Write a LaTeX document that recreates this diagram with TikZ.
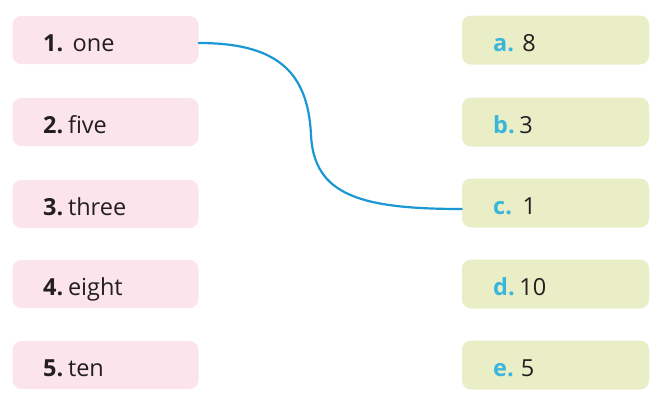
\documentclass[tikz,border=0pt]{standalone}
\usepackage{fontspec}
\setmainfont{Open Sans}
\definecolor{pinkbox}{RGB}{252,228,236}
\definecolor{greenbox}{RGB}{233,238,199}
\definecolor{labcyan}{RGB}{58,182,219}
\definecolor{txt}{RGB}{35,31,32}
\definecolor{curveblue}{RGB}{27,152,212}
\tikzset{
  lbox/.style={fill=pinkbox, rounded corners=9pt, minimum width=186pt, minimum height=48pt, inner sep=0pt},
  rbox/.style={fill=greenbox, rounded corners=9pt, minimum width=187pt, minimum height=49pt, inner sep=0pt},
  ltext/.style={anchor=base west, inner sep=0pt, font=\fontsize{23.5}{26}\selectfont, text=txt},
  rtext/.style={anchor=base west, inner sep=0pt, font=\fontsize{23.5}{26}\selectfont, text=txt},
  link/.style={draw=curveblue, line width=2.2pt, line cap=round}
}
\begin{document}
\begin{tikzpicture}[x=1pt,y=-1pt]
\useasboundingbox[fill=white] (0,0) rectangle (663,416);
% left boxes
\node[lbox] (l1) at (105.5,40) {};
\node[lbox] (l2) at (105.5,122) {};
\node[lbox] (l3) at (105.5,204) {};
\node[lbox] (l4) at (105.5,284) {};
\node[lbox] (l5) at (105.5,365) {};
% right boxes
\node[rbox] (ra) at (555.5,40) {};
\node[rbox] (rb) at (555.5,122) {};
\node[rbox] (rc) at (555.5,203) {};
\node[rbox] (rd) at (555.5,284) {};
\node[rbox] (re) at (555.5,365) {};
% left texts
\node[ltext] (t1) at (43,51) {\textbf{1.}\hspace{0.4em}one};
\node[ltext] (t2) at (43,133) {\textbf{2.}\hspace{0.2em}five};
\node[ltext] (t3) at (43,215) {\textbf{3.}\hspace{0.2em}three};
\node[ltext] (t4) at (43,295) {\textbf{4.}\hspace{0.2em}eight};
\node[ltext] (t5) at (43,376) {\textbf{5.}\hspace{0.2em}ten};
% right texts
\node[rtext] (ta) at (493,51) {\textcolor{labcyan}{\textbf{a.}}\hspace{0.35em}8};
\node[rtext] (tb) at (493,133) {\textcolor{labcyan}{\textbf{b.}}\hspace{0.2em}3};
\node[rtext] (tc) at (493,214) {\textcolor{labcyan}{\textbf{c.}}\hspace{0.45em}1};
\node[rtext] (td) at (493,295) {\textcolor{labcyan}{\textbf{d.}}\hspace{0.2em}10};
\node[rtext] (te) at (493,376) {\textcolor{labcyan}{\textbf{e.}}\hspace{0.3em}5};
% connector
\coordinate (mid) at (311,135);
\draw[link] ([yshift=-3pt]l1.east) .. controls (275,43) and (308,70) .. (mid)
  .. controls (314,195) and (360,209) .. ([yshift=-6pt]rc.west);
\end{tikzpicture}
\end{document}
